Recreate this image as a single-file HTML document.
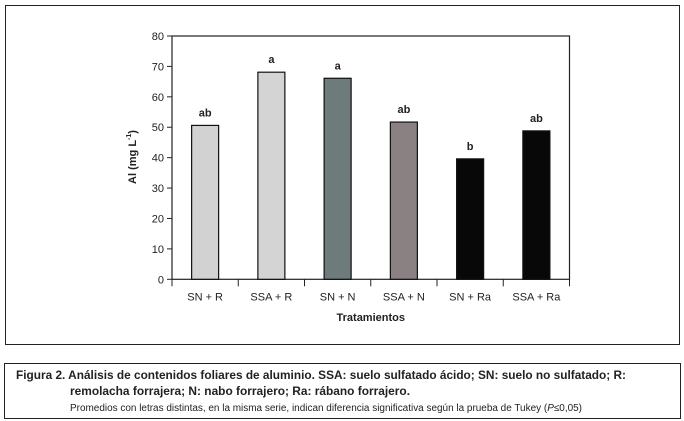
<!DOCTYPE html>
<html><head><meta charset="utf-8"><style>
body{margin:0;background:#fff;width:684px;height:421px;overflow:hidden;font-family:"Liberation Sans",sans-serif}
svg{display:block}
</style></head><body>
<svg width="684" height="421">
<rect x="5.5" y="5.5" width="674" height="339" fill="none" stroke="#222" stroke-width="1"/>
<rect x="4.5" y="363.5" width="676" height="55" fill="none" stroke="#222" stroke-width="1"/>
<g id="plot"></g>
<text x="16" y="379" font-size="12" font-weight="bold" fill="#222" textLength="610" lengthAdjust="spacingAndGlyphs">Figura 2.  Análisis de contenidos foliares de aluminio. SSA: suelo sulfatado ácido; SN: suelo no sulfatado; R:</text>
<text x="70" y="395" font-size="12" font-weight="bold" fill="#222" textLength="340" lengthAdjust="spacingAndGlyphs">remolacha forrajera; N: nabo forrajero; Ra: rábano forrajero.</text>
<text x="70" y="411" font-size="10" fill="#222" textLength="512" lengthAdjust="spacingAndGlyphs">Promedios con letras distintas, en la misma serie, indican diferencia significativa según la prueba de Tukey (<tspan font-style="italic">P</tspan>≤0,05)</text>
</svg>
<script>
const categories=["SN+R","SSA+R","SN+N","SSA+N","SN+Ra","SSA+Ra"];
const values=[50.6,68.1,66.1,51.7,39.6,48.8];
const letters=["ab","a","a","ab","b","ab"];
const colors=["#d2d2d2","#d4d4d4","#6d7b7b","#8a8282","#080808","#080808"];
const yTicks=[0,10,20,30,40,50,60,70,80];
const NS="http://www.w3.org/2000/svg";
const g=document.getElementById('plot');
const L=172,R=569.5,T=36,B=279.3,yMax=80;
const y=v=>B-(v/yMax)*(B-T);
const bw=(R-L)/categories.length;
const x=i=>L+bw*(i+0.5);
function mk(tag,a){const e=document.createElementNS(NS,tag);for(const k in a)e.setAttribute(k,a[k]);g.appendChild(e);return e;}
let e=mk('rect',{x:L,y:T,width:R-L,height:B-T,fill:'none',stroke:'#222','stroke-width':1.2});


yTicks.forEach(t=>{
 let l=mk('line',{x1:L-5,x2:L,y1:y(t),y2:y(t),stroke:'#222'});
 
 
 let tx=mk('text',{x:L-8,y:y(t)+4,'text-anchor':'end','font-size':11,fill:'#222'});
 tx.textContent=t;
 
 
});
for(let i=0;i<=categories.length;i++){
 let l=mk('line',{x1:L+bw*i,x2:L+bw*i,y1:B,y2:B+7,stroke:'#222'});
 
 
}
categories.forEach((c,i)=>{
 let r=mk('rect',{x:x(i)-13.5,y:y(values[i]),width:27,height:B-y(values[i]),fill:colors[i],stroke:'#111','stroke-width':1.2});
 
 
 let lt=mk('text',{x:x(i),y:y(values[i])-9,'text-anchor':'middle','font-size':11,'font-weight':'bold',fill:'#222'});
 lt.textContent=letters[i];
 
 
 let cl=mk('text',{x:x(i),y:B+21,'text-anchor':'middle','font-size':11,fill:'#222'});
 cl.textContent=c.replace('+',' + ');
 
 
});
let xt=mk('text',{x:(L+R)/2,y:321,'text-anchor':'middle','font-size':11,'font-weight':'bold',fill:'#222'});
xt.textContent='Tratamientos';


let yt=mk('text',{x:0,y:0,'text-anchor':'middle','font-size':11,'font-weight':'bold',fill:'#222',transform:'translate(136,157) rotate(-90)'});
yt.innerHTML='Al (mg L<tspan font-size="7" dy="-5">-1</tspan><tspan dy="5">)</tspan>';


</script>
</body></html>
